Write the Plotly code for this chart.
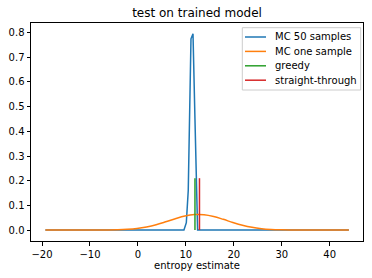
import plotly.graph_objects as go

# MC 50 samples (density estimate)
mc50_x = [-19.3, 9.6, 10.1, 10.5, 11.07, 11.49, 11.9, 12.2, 12.45, 44.0]
mc50_y = [0.0, 0.0, 0.03, 0.16, 0.775, 0.795, 0.45, 0.12, 0.0, 0.0]

# MC one sample
mc1_x = [-19.3, -6.2, -4.2, -2.2, -0.2, 1.8, 3.8, 5.8, 7.8, 9.8, 11.8, 13.8,
         15.8, 17.8, 19.8, 21.8, 23.8, 25.8, 27.8, 29.8, 31.8, 44.0]
mc1_y = [0.0, 0.0005, 0.0012, 0.003, 0.0064, 0.0125, 0.0214, 0.0332, 0.0457,
         0.0565, 0.0624, 0.0618, 0.0547, 0.0433, 0.0307, 0.0195, 0.011, 0.0056,
         0.0025, 0.001, 0.0004, 0.0]

# greedy and straight-through spikes
greedy_x = [11.9, 11.9]
greedy_y = [0.0, 0.21]
st_x = [12.84, 12.84]
st_y = [0.0, 0.21]

x_ticks = [-20, -10, 0, 10, 20, 30, 40]
y_ticks = [0.0, 0.1, 0.2, 0.3, 0.4, 0.5, 0.6, 0.7, 0.8]

series_names = ["MC 50 samples", "MC one sample", "greedy", "straight-through"]
series_colors = ["#1f77b4", "#ff7f0e", "#2ca02c", "#d62728"]

W, H = 372, 278
ML, MR, MT, MB = 31, 9, 23, 37
PW, PH = W - ML - MR, H - MT - MB


def px_x(p):
    return (p - ML) / PW


def px_y(p):
    return (H - MB - p) / PH


fig = go.Figure()
fig.add_trace(go.Scatter(x=mc50_x, y=mc50_y, mode="lines", name=series_names[0],
                         line=dict(color=series_colors[0], width=1.5)))
fig.add_trace(go.Scatter(x=mc1_x, y=mc1_y, mode="lines", name=series_names[1],
                         line=dict(color=series_colors[1], width=1.5, shape="spline")))
fig.add_trace(go.Scatter(x=greedy_x, y=greedy_y, mode="lines", name=series_names[2],
                         line=dict(color=series_colors[2], width=1.5)))
fig.add_trace(go.Scatter(x=st_x, y=st_y, mode="lines", name=series_names[3],
                         line=dict(color=series_colors[3], width=1.5)))

axis_common = dict(showgrid=False, zeroline=False, showline=True, linecolor="black",
                   linewidth=1, mirror=True, ticks="outside", ticklen=3.5,
                   tickwidth=1, tickcolor="black", automargin=False,
                   tickfont=dict(family="DejaVu Sans", size=10, color="black"))

# matplotlib-style compact legend (drawn in paper coordinates)
shapes = [dict(type="rect", xref="paper", yref="paper",
               x0=px_x(242.3), x1=px_x(360.7), y0=px_y(90), y1=px_y(27.7),
               line=dict(color="#cccccc", width=1), fillcolor="rgba(255,255,255,0.8)",
               layer="above")]
annotations = []
for i, (nm, col) in enumerate(zip(series_names, series_colors)):
    yc = 37 + 14.4 * i
    shapes.append(dict(type="line", xref="paper", yref="paper",
                       x0=px_x(245), x1=px_x(266), y0=px_y(yc), y1=px_y(yc),
                       line=dict(color=col, width=1.5), layer="above"))
    annotations.append(dict(text=nm, xref="paper", yref="paper", x=px_x(273),
                            y=px_y(yc), xanchor="left", yanchor="middle",
                            showarrow=False,
                            font=dict(family="DejaVu Sans", size=10, color="black")))

fig.update_layout(
    width=W, height=H,
    margin=dict(l=ML, r=MR, t=MT, b=MB),
    paper_bgcolor="white", plot_bgcolor="white",
    font=dict(family="DejaVu Sans", size=10, color="black"),
    title=dict(text="test on trained model", x=0.5, xref="paper", xanchor="center",
               y=1 - 12.7 / H, yref="container", yanchor="middle",
               font=dict(family="DejaVu Sans", size=12, color="black")),
    xaxis=dict(range=[-22.3, 46.95], tickvals=x_ticks,
               title=dict(text="entropy estimate", standoff=2,
                          font=dict(family="DejaVu Sans", size=10, color="black")),
               **axis_common),
    yaxis=dict(range=[-0.0445, 0.839], tickvals=y_ticks, tickformat=".1f",
               **axis_common),
    shapes=shapes,
    annotations=annotations,
    showlegend=False,
)

fig.write_html("out.html", config={"displayModeBar": False},
               post_script="document.body.style.margin='0';document.body.style.overflow='hidden';")
